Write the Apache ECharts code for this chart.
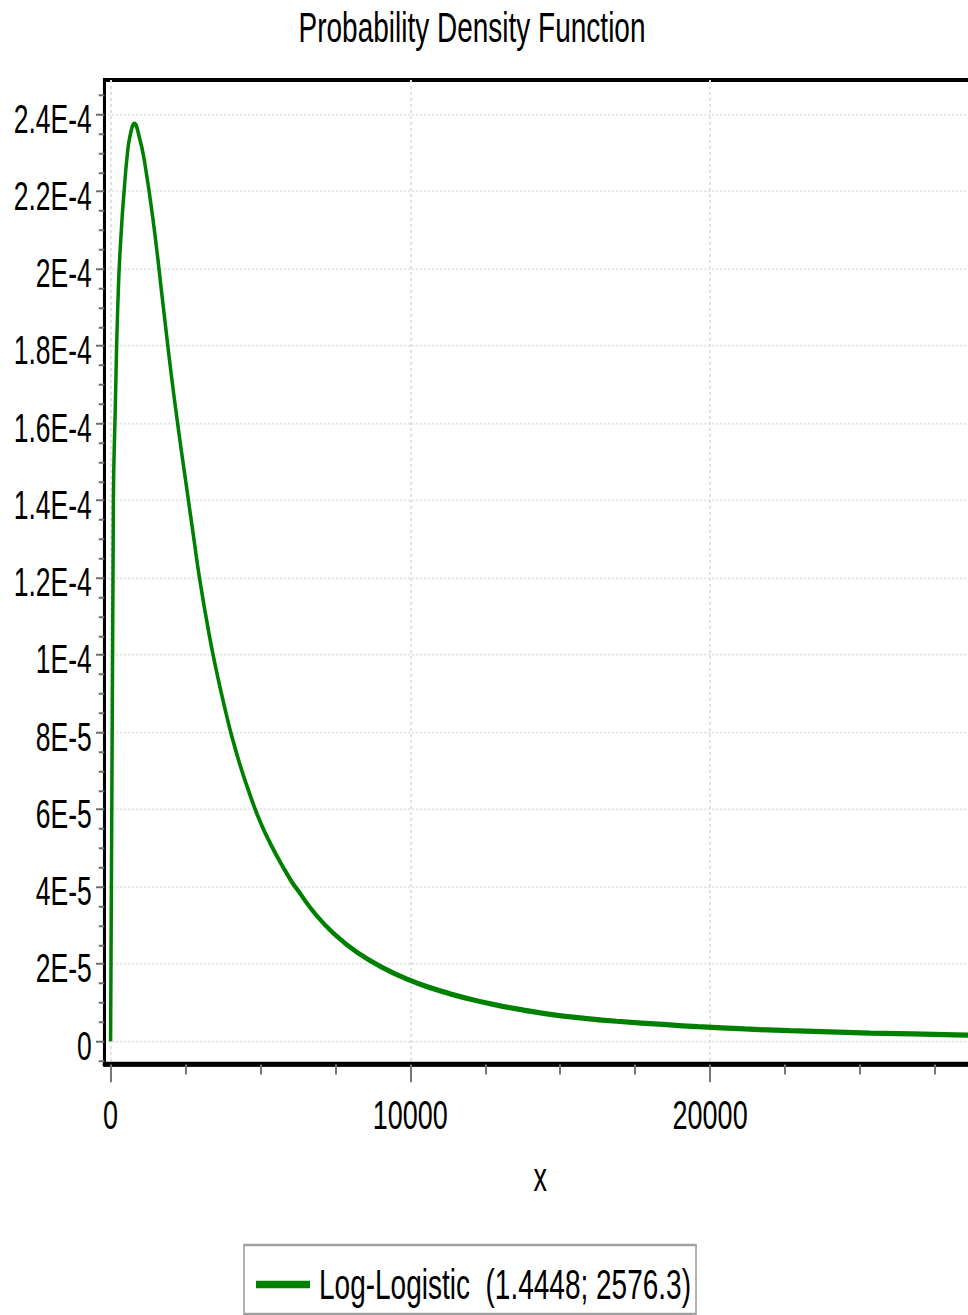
<!DOCTYPE html>
<html>
<head>
<meta charset="utf-8">
<script src="https://cdn.jsdelivr.net/npm/echarts@6/dist/echarts.min.js"></script>
<style>
html,body{margin:0;padding:0;background:#fff;}
body{width:968px;height:1315px;position:relative;}
#main{position:absolute;left:0;top:0;width:968px;height:876.667px;transform:scaleY(1.5);transform-origin:0 0;}
</style>
</head>
<body>
<div id="main"></div>
<script>
// ---- data ----
const seriesName = 'Log-Logistic\u00a0 (1.4448; 2576.3)';
const xValues = [0, 93, 150, 260, 374, 450, 550, 650, 794, 961, 1127, 1428, 1761, 2018, 2262, 2552, 2762, 2985, 3296, 3542, 3819, 4043, 4320, 4597, 4877, 5153, 5544, 5987, 6211, 6878, 7545, 8212, 9099, 9990, 10657, 11324, 12215, 12992, 13769, 14660, 15771, 16885, 18553, 19597, 21164, 22665, 25333, 28169, 28870];
const yValues = [0, 1.40e-4, 1.62e-4, 1.95e-4, 2.12e-4, 2.20e-4, 2.29e-4, 2.345e-4, 2.375e-4, 2.34e-4, 2.28e-4, 2.12e-4, 1.90e-4, 1.73e-4, 1.585e-4, 1.425e-4, 1.31e-4, 1.19e-4, 1.05e-4, 9.55e-5, 8.6e-5, 7.9e-5, 7.15e-5, 6.5e-5, 5.9e-5, 5.4e-5, 4.8e-5, 4.2e-5, 3.95e-5, 3.25e-5, 2.72e-5, 2.31e-5, 1.90e-5, 1.58e-5, 1.39e-5, 1.23e-5, 1.05e-5, 9.2e-6, 8.1e-6, 7.0e-6, 6.0e-6, 5.2e-6, 4.3e-6, 3.8e-6, 3.2e-6, 2.75e-6, 2.15e-6, 1.7e-6, 1.6e-6];
const xTickValues = [0, 10000, 20000];
const xMinorTickValues = [2500, 5000, 7500, 12500, 15000, 17500, 22500, 25000, 27500];
const yTickValues = [0, 2e-5, 4e-5, 6e-5, 8e-5, 1e-4, 1.2e-4, 1.4e-4, 1.6e-4, 1.8e-4, 2e-4, 2.2e-4, 2.4e-4];
const yMinorTickValues = [-5e-6, 5e-6, 1e-5, 1.5e-5, 2.5e-5, 3e-5, 3.5e-5, 4.5e-5, 5e-5, 5.5e-5, 6.5e-5, 7e-5, 7.5e-5, 8.5e-5, 9e-5, 9.5e-5, 1.05e-4, 1.1e-4, 1.15e-4, 1.25e-4, 1.3e-4, 1.35e-4, 1.45e-4, 1.5e-4, 1.55e-4, 1.65e-4, 1.7e-4, 1.75e-4, 1.85e-4, 1.9e-4, 1.95e-4, 2.05e-4, 2.1e-4, 2.15e-4, 2.25e-4, 2.3e-4, 2.35e-4, 2.45e-4];
const xMin = -210, xMax = 28870;
const yMin = -6.0e-6, yMax = 2.489e-4;

const FONT = "'Liberation Sans', Arial, sans-serif";

function fmtE(v) {
  if (v === 0) return '0';
  const e = Math.floor(Math.log10(Math.abs(v)) + 1e-9);
  const m = +(v / Math.pow(10, e)).toFixed(2);
  return m + 'E' + e;
}

const chart = echarts.init(document.getElementById('main'), null, {renderer: 'svg'});
chart.setOption({
  backgroundColor: '#fff',
  animation: false,
  title: {
    text: 'Probability Density Function',
    left: 298.5, top: 4.5, padding: 0,
    textStyle: {fontFamily: FONT, fontSize: 28, fontWeight: 'normal', color: '#000'}
  },
  legend: {
    left: 244, top: 830,
    padding: [12.3, 5, 5.7, 12],
    borderColor: '#a0a0a0', borderWidth: 1.6,
    icon: 'rect', itemWidth: 54, itemHeight: 5.1,
    textStyle: {fontFamily: FONT, fontSize: 28, color: '#000', padding: [0, 0, 0, 4]},
    data: [seriesName]
  },
  grid: {
    left: 104.3, right: -8, top: 53.33, bottom: 167.33,
    outerBoundsMode: 'none', containLabel: false,
    show: true, borderColor: '#000', borderWidth: 2.7, backgroundColor: 'transparent'
  },
  xAxis: [{
    type: 'value', min: xMin, max: xMax, position: 'bottom',
    name: 'x', nameLocation: 'middle', nameGap: 61.3,
    nameTextStyle: {fontFamily: FONT, fontSize: 27, color: '#000'},
    axisLine: {show: true, onZero: false, lineStyle: {color: '#000', width: 3.3}},
    axisTick: {show: true, customValues: xTickValues, length: 11.8, lineStyle: {color: '#777', width: 2}},
    axisLabel: {customValues: xTickValues, formatter: v => String(v), fontFamily: FONT, fontSize: 27, color: '#000', margin: 20},
    splitLine: {show: true, lineStyle: {color: '#e2e2e2', width: 2, type: [2, 2]}}
  }, {
    type: 'value', min: xMin, max: xMax, position: 'bottom',
    axisLine: {show: false, onZero: false},
    axisTick: {show: true, customValues: xMinorTickValues, length: 6.7, lineStyle: {color: '#777', width: 2}},
    axisLabel: {show: false},
    splitLine: {show: false}
  }],
  yAxis: [{
    type: 'value', min: yMin, max: yMax, position: 'left',
    axisLine: {show: true, onZero: false, lineStyle: {color: '#000', width: 3}},
    axisTick: {show: true, customValues: yTickValues, length: 8.3, lineStyle: {color: '#6e6e6e', width: 1.33}},
    axisLabel: {customValues: yTickValues, formatter: fmtE, fontFamily: FONT, fontSize: 26.5, color: '#000', margin: 12.5, verticalAlign: 'top', lineHeight: 5.4},
    splitLine: {show: true, lineStyle: {color: '#e2e2e2', width: 1.2, type: [2, 2]}}
  }, {
    type: 'value', min: yMin, max: yMax, position: 'left',
    axisLine: {show: false, onZero: false},
    axisTick: {show: true, customValues: yMinorTickValues, length: 5.6, lineStyle: {color: '#6e6e6e', width: 1.33}},
    axisLabel: {show: false},
    splitLine: {show: false}
  }],
  series: [{
    name: seriesName,
    type: 'line',
    xAxisIndex: 0, yAxisIndex: 0,
    data: xValues.map((x, i) => [x, yValues[i]]),
    showSymbol: false,
    smooth: 0.5,
    lineStyle: {color: '#008000', width: 3.5},
    itemStyle: {color: '#008000'},
    clip: true
  }]
});
</script>
</body>
</html>
